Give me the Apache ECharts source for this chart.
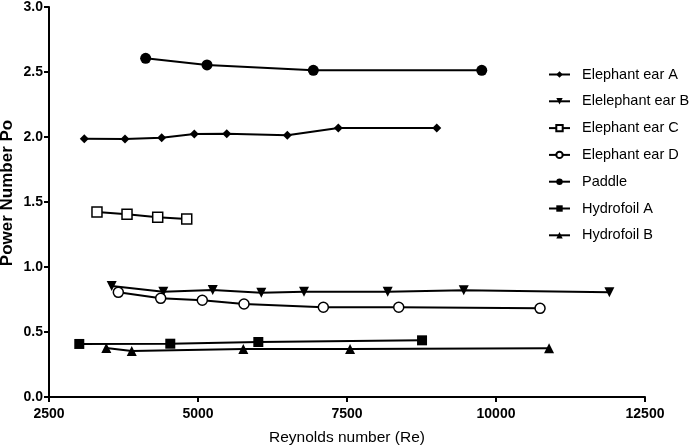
<!DOCTYPE html>
<html>
<head>
<meta charset="utf-8">
<script src="https://cdn.jsdelivr.net/npm/echarts@6/dist/echarts.min.js"></script>
<style>html,body{margin:0;padding:0;background:#fff}#c{width:696px;height:446px}</style>
</head>
<body>
<div id="c"></div>
<script>
const seriesNames = ["Elephant ear A","Elelephant ear B","Elephant ear C","Elephant ear D","Paddle","Hydrofoil A","Hydrofoil B"];
const earA_x = [3092,3775,4391,4938,5482,6499,7354,9006];
const earA_y = [1.987,1.985,1.995,2.023,2.025,2.013,2.069,2.069];
const earB_x = [3552,4418,5247,6062,6779,8183,9459,11902];
const earB_y = [0.854,0.81,0.823,0.802,0.81,0.81,0.821,0.805];
const earC_x = [3305,3809,4324,4811];
const earC_y = [1.423,1.405,1.382,1.369];
const earD_x = [3663,4374,5072,5772,7103,8368,10739];
const earD_y = [0.805,0.759,0.744,0.715,0.69,0.69,0.682];
const paddle_x = [4122,5151,6935,9761];
const paddle_y = [2.605,2.554,2.513,2.513];
const hydA_x = [3008,4535,6012,8759];
const hydA_y = [0.408,0.410,0.423,0.436];
const hydB_x = [3462,3888,5760,7551,10890];
const hydB_y = [0.377,0.354,0.369,0.369,0.375];
const xTicks = [2500,5000,7500,10000,12500];
const yTicks = [0.0,0.5,1.0,1.5,2.0,2.5,3.0];

const FONT = '"Liberation Sans", Arial, sans-serif';
const zip = (xs, ys) => xs.map((x, i) => [x, ys[i]]);
const styles = [
  {symbol:'diamond', size:9, fill:'#000', rotate:0},
  {symbol:'triangle', size:10, fill:'#000', rotate:180},
  {symbol:'rect', size:10, fill:'#fff', rotate:0},
  {symbol:'circle', size:10, fill:'#fff', rotate:0},
  {symbol:'circle', size:11, fill:'#000', rotate:0},
  {symbol:'rect', size:10, fill:'#000', rotate:0},
  {symbol:'triangle', size:10, fill:'#000', rotate:0}
];
const data = [zip(earA_x,earA_y), zip(earB_x,earB_y), zip(earC_x,earC_y), zip(earD_x,earD_y), zip(paddle_x,paddle_y), zip(hydA_x,hydA_y), zip(hydB_x,hydB_y)];

const chart = echarts.init(document.getElementById('c'), null, {renderer:'canvas'});
chart.setOption({
  animation: false,
  backgroundColor: '#fff',
  grid: {left: 49, right: 51, top: 7, bottom: 49, containLabel: false, outerBoundsMode: 'none'},
  legend: {
    orient: 'vertical', left: 543, top: 62, itemWidth: 21, itemHeight: 8, itemGap: 11.8, padding: 5,
    textStyle: {fontFamily: FONT, fontSize: 14.5, color: '#000', padding: [0,0,0,7]},
    data: seriesNames
  },
  xAxis: {
    type: 'value', min: xTicks[0], max: xTicks[xTicks.length-1], interval: 2500,
    name: 'Reynolds number (Re)', nameLocation: 'middle', nameGap: 33, nameMoveOverlap: false,
    nameTextStyle: {fontFamily: FONT, fontSize: 15.5, color: '#000'},
    axisLine: {show: true, lineStyle: {color: '#000', width: 2}},
    axisTick: {show: true, inside: false, length: 5, lineStyle: {color: '#000', width: 2}},
    axisLabel: {fontFamily: FONT, fontSize: 14, fontWeight: 'bold', color: '#000', margin: 10, formatter: v => String(v)},
    splitLine: {show: false}
  },
  yAxis: {
    type: 'value', min: yTicks[0], max: yTicks[yTicks.length-1], interval: 0.5,
    name: 'Power Number Po', nameLocation: 'middle', nameGap: 33, nameRotate: 90, nameMoveOverlap: false,
    nameTextStyle: {fontFamily: FONT, fontSize: 17, fontWeight: 'bold', color: '#000', padding: [0,0,0,18]},
    axisLine: {show: true, lineStyle: {color: '#000', width: 2}},
    axisTick: {show: true, inside: false, length: 5, lineStyle: {color: '#000', width: 2}},
    axisLabel: {fontFamily: FONT, fontSize: 14, fontWeight: 'bold', color: '#000', margin: 6, formatter: v => v.toFixed(1)},
    splitLine: {show: false}
  },
  series: seriesNames.map((n, i) => ({
    name: n, type: 'line', data: data[i],
    symbol: styles[i].symbol, symbolSize: styles[i].size, symbolRotate: styles[i].rotate,
    showAllSymbol: true,
    lineStyle: {color: '#000', width: 2},
    itemStyle: {color: styles[i].fill, borderColor: '#000', borderWidth: styles[i].fill === '#fff' ? 1.5 : 0},
    emphasis: {disabled: true}
  }))
});
</script>
</body>
</html>
